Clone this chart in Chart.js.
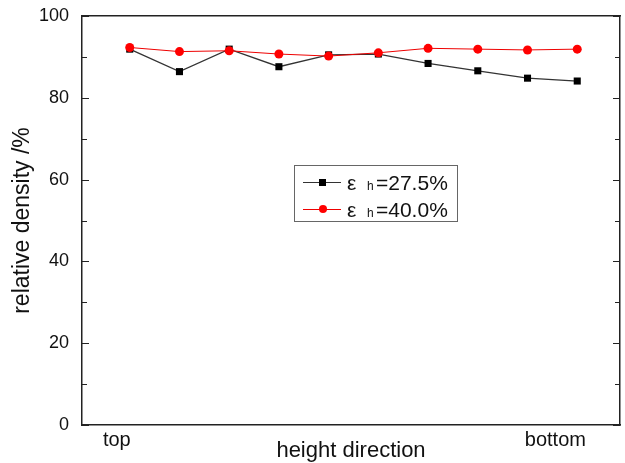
<!DOCTYPE html>
<html>
<head>
<meta charset="utf-8">
<script src="https://cdn.jsdelivr.net/npm/chart.js@4/dist/chart.umd.min.js"></script>
<style>
  html, body { margin: 0; padding: 0; background: #fff; }
  #wrap { width: 625px; height: 463px; }
</style>
</head>
<body>
<div id="wrap"><canvas id="c" width="625" height="463"></canvas></div>
<script>
// ---- data ----
const positions = [1, 2, 3, 4, 5, 6, 7, 8, 9, 10];
const series1Name = 'ε h=27.5%';
const series1 = [91.9, 86.4, 91.9, 87.6, 90.5, 90.7, 88.4, 86.6, 84.8, 84.1];
const series2Name = 'ε h=40.0%';
const series2 = [92.3, 91.3, 91.5, 90.7, 90.2, 91.0, 92.1, 91.9, 91.7, 91.9];
const xTickValues = [0.74, 9.56];
const xTickLabels = ['top', 'bottom'];
const yTickValues = [0, 20, 40, 60, 80, 100];
const yMinorValues = [10, 30, 50, 70, 90];

const FONT = '"Liberation Sans", Arial, sans-serif';

const innerTicks = {
  id: 'innerTicks',
  afterDraw(chart) {
    const ctx = chart.ctx;
    const y = chart.scales.y;
    const a = chart.chartArea;
    ctx.save();
    ctx.strokeStyle = '#222';
    ctx.lineWidth = 1.2;
    const draw = (v, len) => {
      const py = Math.round(y.getPixelForValue(v)) + 0.5;
      ctx.beginPath();
      ctx.moveTo(a.left, py); ctx.lineTo(a.left + len, py);
      ctx.moveTo(a.right, py); ctx.lineTo(a.right - len, py);
      ctx.stroke();
    };
    yTickValues.forEach(v => draw(v, 7));
    yMinorValues.forEach(v => draw(v, 5));
    ctx.restore();
  }
};

const customLegend = {
  id: 'customLegend',
  afterDraw(chart) {
    const ctx = chart.ctx;
    ctx.save();
    const bx = 294, by = 165, bw = 163, bh = 56;
    ctx.fillStyle = '#fff';
    ctx.fillRect(bx, by, bw, bh);
    ctx.strokeStyle = '#666';
    ctx.lineWidth = 1;
    ctx.strokeRect(bx + 0.5, by + 0.5, bw, bh);
    const rows = [
      { name: series1Name, color: '#333', fill: '#000', style: 'rect', cy: 182 },
      { name: series2Name, color: '#e00', fill: '#f00', style: 'circle', cy: 209 }
    ];
    rows.forEach(r => {
      ctx.strokeStyle = r.color;
      ctx.lineWidth = 1;
      ctx.beginPath();
      ctx.moveTo(303, r.cy + 0.5); ctx.lineTo(341, r.cy + 0.5);
      ctx.stroke();
      ctx.fillStyle = r.fill;
      if (r.style === 'rect') {
        ctx.fillRect(319, r.cy - 3, 7, 7);
      } else {
        ctx.beginPath(); ctx.arc(323, r.cy, 4, 0, Math.PI * 2); ctx.fill();
      }
      const parts = r.name.split(' ');
      const sub = parts[1].charAt(0);
      const rest = parts[1].slice(1);
      ctx.fillStyle = '#111';
      ctx.textBaseline = 'alphabetic';
      ctx.textAlign = 'left';
      const base = r.cy + 8;
      ctx.font = '21px ' + FONT;
      ctx.fillText(parts[0], 347, base);
      ctx.font = '12px ' + FONT;
      ctx.fillText(sub, 367, base);
      ctx.font = '21px ' + FONT;
      ctx.fillText(rest, 376, base);
    });
    ctx.restore();
  }
};

new Chart(document.getElementById('c'), {
  type: 'line',
  data: {
    datasets: [
      {
        label: series1Name,
        data: positions.map((p, i) => ({ x: p, y: series1[i] })),
        borderColor: '#333',
        borderWidth: 1.3,
        pointStyle: 'rect',
        pointRadius: 5,
        pointBackgroundColor: '#000',
        pointBorderColor: '#000',
        pointBorderWidth: 0,
        order: 2,
        tension: 0
      },
      {
        label: series2Name,
        data: positions.map((p, i) => ({ x: p, y: series2[i] })),
        borderColor: '#e00',
        borderWidth: 1,
        pointStyle: 'circle',
        pointRadius: 4.5,
        pointBackgroundColor: '#f00',
        pointBorderColor: '#f00',
        pointBorderWidth: 0,
        order: 1,
        tension: 0
      }
    ]
  },
  options: {
    responsive: false,
    devicePixelRatio: 1,
    animation: false,
    layout: { padding: 0 },
    plugins: { legend: { display: false }, tooltip: { enabled: false } },
    scales: {
      x: {
        type: 'linear',
        position: 'bottom',
        min: 0.04,
        max: 10.86,
        afterBuildTicks: s => { s.ticks = xTickValues.map(v => ({ value: v })); },
        afterFit: s => { s.height = 38; s.paddingLeft = 0; s.paddingRight = 0; },
        ticks: {
          autoSkip: false,
          maxRotation: 0,
          padding: 3,
          color: '#111',
          font: { family: FONT, size: 20 },
          callback: (v, i) => xTickLabels[i]
        },
        grid: { drawOnChartArea: false, drawTicks: false },
        border: { display: true, color: '#222', width: 1.5 },
        title: {
          display: true,
          text: 'height direction',
          color: '#111',
          font: { family: FONT, size: 22 },
          padding: { top: 0, bottom: -1 }
        }
      },
      x2: {
        type: 'linear',
        position: 'top',
        min: 0, max: 10,
        afterFit: s => { s.height = 16; s.paddingLeft = 0; s.paddingRight = 0; },
        ticks: { display: false },
        grid: { drawOnChartArea: false, drawTicks: false },
        border: { display: true, color: '#222', width: 1.5 }
      },
      y: {
        type: 'linear',
        position: 'left',
        min: 0,
        max: 100,
        afterBuildTicks: s => { s.ticks = yTickValues.map(v => ({ value: v })); },
        afterFit: s => { s.width = 82; s.paddingTop = 0; s.paddingBottom = 0; },
        ticks: {
          padding: 13,
          color: '#111',
          font: { family: FONT, size: 18 }
        },
        grid: { drawOnChartArea: false, drawTicks: false },
        border: { display: true, color: '#222', width: 1.5 },
        title: {
          display: true,
          text: 'relative density /%',
          color: '#111',
          font: { family: FONT, size: 23 },
          padding: { top: 9, bottom: 0 }
        }
      },
      y2: {
        type: 'linear',
        position: 'right',
        min: 0, max: 100,
        afterFit: s => { s.width = 2; s.paddingTop = 0; s.paddingBottom = 0; },
        ticks: { display: false },
        grid: { drawOnChartArea: false, drawTicks: false },
        border: { display: true, color: '#222', width: 1.5 }
      }
    }
  },
  plugins: [innerTicks, customLegend]
});
</script>
</body>
</html>
